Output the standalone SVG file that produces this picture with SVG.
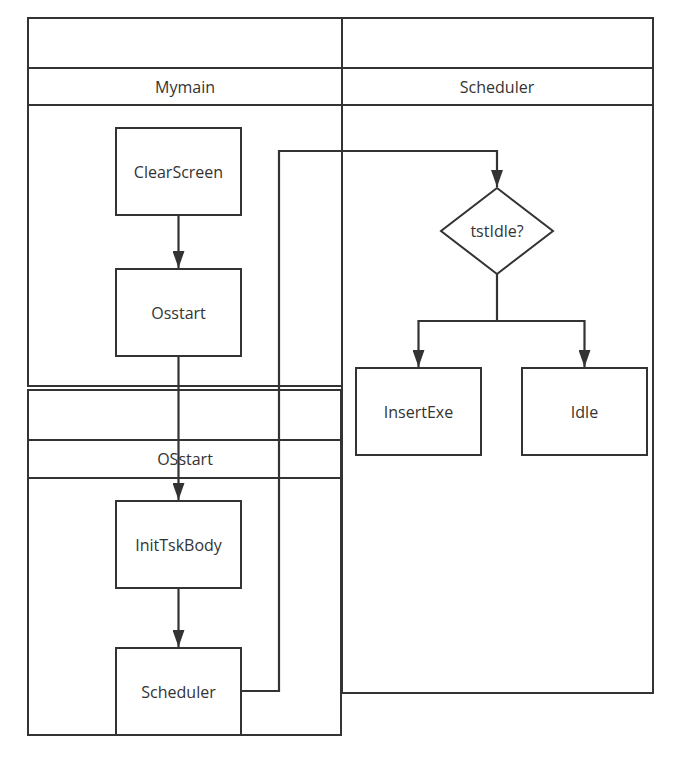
<svg xmlns="http://www.w3.org/2000/svg" width="693" height="764" viewBox="0 0 693 764">
<defs>
<style>
.s{fill:#fff;stroke:#333;stroke-width:2}
.l{fill:none;stroke:#333;stroke-width:2}
.c{fill:none;stroke:#333;stroke-width:2.2;marker-end:url(#a)}
text{font-family:"Open Sans","Noto Sans","Liberation Sans",sans-serif;font-size:16px;fill:#333;text-anchor:middle;dominant-baseline:central}
</style>
<marker id="a" markerWidth="17" markerHeight="12" refX="17" refY="6" orient="auto" markerUnits="userSpaceOnUse" viewBox="0 0 17 12">
<path d="M0,0 L17,6 L0,12 Z" fill="#333"/>
</marker>
</defs>
<rect width="693" height="764" fill="#fff"/>
<g id="pool-scheduler">
<rect class="s" x="342" y="18" width="311" height="675"/>
<line class="l" x1="342" y1="68" x2="653" y2="68"/>
<line class="l" x1="342" y1="105" x2="653" y2="105"/>
<text x="497" y="87">Scheduler</text>
</g>
<g id="pool-mymain">
<rect class="s" x="28" y="18" width="314" height="368"/>
<line class="l" x1="28" y1="68" x2="342" y2="68"/>
<line class="l" x1="28" y1="105" x2="342" y2="105"/>
<text x="185" y="87">Mymain</text>
</g>
<g id="pool-osstart">
<rect class="s" x="28" y="390" width="313" height="345"/>
<line class="l" x1="28" y1="440" x2="341" y2="440"/>
<line class="l" x1="28" y1="478" x2="341" y2="478"/>
<text x="185" y="459">OSstart</text>
</g>
<g id="n-clearscreen"><rect class="s" x="116" y="128" width="125" height="87"/><text x="178.5" y="171.5">ClearScreen</text></g>
<g id="n-osstart"><rect class="s" x="116" y="269" width="125" height="87"/><text x="178.5" y="312.5">Osstart</text></g>
<g id="n-inittskbody"><rect class="s" x="116" y="501" width="125" height="87"/><text x="178.5" y="544.5">InitTskBody</text></g>
<g id="n-scheduler"><rect class="s" x="116" y="648" width="125" height="87"/><text x="178.5" y="691.5">Scheduler</text></g>
<g id="n-tstidle"><polygon class="s" points="497,188 553,231 497,274 441,231"/><text x="497" y="231">tstIdle?</text></g>
<g id="n-insertexe"><rect class="s" x="356" y="368" width="125" height="87"/><text x="418.5" y="411.5">InsertExe</text></g>
<g id="n-idle"><rect class="s" x="522" y="368" width="125" height="87"/><text x="584.5" y="411.5">Idle</text></g>
<g id="connectors">
<path class="c" d="M178.5,215 V268"/>
<path class="c" d="M178.5,356 V500"/>
<path class="c" d="M178.5,588 V647"/>
<path class="c" d="M241,691 H279 V151 H497 V187"/>
<path class="c" d="M497,274 V321 H418.5 V367"/>
<path class="c" d="M497,321 H584.5 V367"/>
</g>
</svg>
